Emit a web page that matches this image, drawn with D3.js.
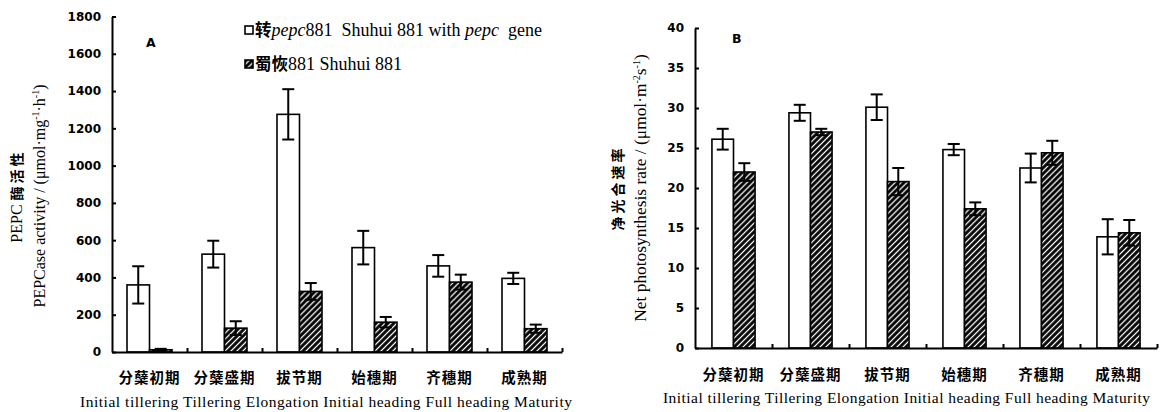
<!DOCTYPE html>
<html>
<head>
<meta charset="utf-8">
<script src="https://cdn.jsdelivr.net/npm/d3@7"></script>
<style>
  body { margin: 0; background: #fff; }
  svg { display: block; }
  .tick text { font-family: 'DejaVu Sans', sans-serif; font-weight: bold; font-size: 12px; fill: #000; }
  .serif { font-family: 'Liberation Serif', 'Times New Roman', serif; }
  .cjk { font-family: 'Noto Sans CJK SC', sans-serif; font-weight: bold; }
</style>
</head>
<body>
<div class="container"></div>
<script>
const stagesZh = ['分蘖初期', '分蘖盛期', '拔节期', '始穗期', '齐穗期', '成熟期'];
const stagesEn = ['Initial tillering', 'Tillering', 'Elongation', 'Initial heading', 'Full heading', 'Maturity'];
const seriesKeys = ['transgenic', 'shuhui'];

// panel A: PEPCase activity
const pepcTransgenic = [360, 525, 1275, 560, 462, 395];
const pepcTransgenicErr = [100, 72, 135, 90, 58, 30];
const pepcShuhui = [12, 128, 325, 160, 375, 125];
const pepcShuhuiErr = [5, 37, 45, 28, 40, 22];
const pepcTicks = [0, 200, 400, 600, 800, 1000, 1200, 1400, 1600, 1800];

// panel B: net photosynthesis rate
const pnTransgenic = [26.1, 29.4, 30.1, 24.8, 22.5, 13.9];
const pnTransgenicErr = [1.3, 1.0, 1.6, 0.7, 1.8, 2.2];
const pnShuhui = [22.0, 27.0, 20.8, 17.4, 24.4, 14.4];
const pnShuhuiErr = [1.1, 0.4, 1.7, 0.8, 1.5, 1.6];
const pnTicks = [0, 5, 10, 15, 20, 25, 30, 35, 40];

const width = 1161;
const height = 412;

const svg = d3
  .select('.container')
  .append('svg')
  .attr('width', width)
  .attr('height', height);

const defs = svg.append('defs');
const hatch = defs
  .append('pattern')
  .attr('id', 'hatch')
  .attr('patternUnits', 'userSpaceOnUse')
  .attr('width', 4.2)
  .attr('height', 4.2)
  .attr('patternTransform', 'rotate(45)');
hatch.append('rect').attr('width', 4.2).attr('height', 4.2).attr('fill', '#000');
hatch
  .append('line')
  .attr('x1', 2.1).attr('y1', 0)
  .attr('x2', 2.1).attr('y2', 4.2)
  .attr('stroke', '#fff')
  .attr('stroke-width', 1.3);

const drawPanel = (cfg) => {
  const g = svg.append('g');
  const rows = stagesZh.map((s, i) => ({
    stage: s,
    values: [
      { key: 'transgenic', v: cfg.a[i], e: cfg.aErr[i] },
      { key: 'shuhui', v: cfg.b[i], e: cfg.bErr[i] },
    ],
  }));

  const x = d3.scaleBand().domain(stagesZh).range([cfg.x0, cfg.x1]);
  const xSub = d3
    .scaleBand()
    .domain(seriesKeys)
    .range([x.bandwidth() * cfg.inset, x.bandwidth() * (1 - cfg.inset)]);
  const y = d3.scaleLinear().domain(cfg.domain).range([cfg.yBottom, cfg.yTop]);

  // bars
  const groups = g
    .selectAll('.stage')
    .data(rows)
    .enter()
    .append('g')
    .attr('transform', (d) => `translate(${x(d.stage)},0)`);

  groups
    .selectAll('rect')
    .data((d) => d.values)
    .enter()
    .append('rect')
    .attr('x', (d) => xSub(d.key))
    .attr('y', (d) => y(d.v))
    .attr('width', xSub.bandwidth())
    .attr('height', (d) => y(0) - y(d.v))
    .attr('fill', (d) => (d.key === 'transgenic' ? '#fff' : 'url(#hatch)'))
    .attr('stroke', '#000')
    .attr('stroke-width', 1.6);

  // error bars
  const err = groups
    .selectAll('.err')
    .data((d) => d.values)
    .enter()
    .append('g')
    .attr('class', 'err')
    .attr('stroke', '#000')
    .attr('stroke-width', 2);
  const cx = (d) => xSub(d.key) + xSub.bandwidth() / 2;
  err
    .append('line')
    .attr('x1', cx).attr('x2', cx)
    .attr('y1', (d) => y(d.v - d.e))
    .attr('y2', (d) => y(d.v + d.e));
  err
    .append('line')
    .attr('x1', (d) => cx(d) - 6).attr('x2', (d) => cx(d) + 6)
    .attr('y1', (d) => y(d.v + d.e))
    .attr('y2', (d) => y(d.v + d.e));
  err
    .append('line')
    .attr('x1', (d) => cx(d) - 6).attr('x2', (d) => cx(d) + 6)
    .attr('y1', (d) => y(Math.max(d.v - d.e, 0)))
    .attr('y2', (d) => y(Math.max(d.v - d.e, 0)));

  // axes
  const yAxis = d3
    .axisLeft(y)
    .tickValues(cfg.ticks)
    .tickFormat(d3.format('d'))
    .tickSizeInner(-4)
    .tickSizeOuter(0)
    .tickPadding(11);
  const ya = g
    .append('g')
    .attr('transform', `translate(${cfg.x0},0)`)
    .call(yAxis);
  ya.selectAll('path, line').attr('stroke', '#000').attr('stroke-width', 2);

  const xEdge = d3.scaleLinear().domain([0, stagesZh.length]).range([cfg.x0, cfg.x1]);
  const xAxis = d3
    .axisTop(xEdge)
    .tickValues(d3.range(1, stagesZh.length + 1))
    .tickSizeInner(4)
    .tickSizeOuter(0)
    .tickFormat('');
  const xa = g
    .append('g')
    .attr('transform', `translate(0,${cfg.yBottom})`)
    .call(xAxis);
  xa.selectAll('path, line').attr('stroke', '#000').attr('stroke-width', 2);

  // category labels
  g.selectAll('.zh')
    .data(stagesZh)
    .enter()
    .append('text')
    .attr('class', 'cjk')
    .attr('x', (d) => x(d) + x.bandwidth() / 2)
    .attr('y', cfg.zhY)
    .attr('text-anchor', 'middle')
    .style('font-size', '14.5px')
    .style('letter-spacing', '1px')
    .text((d) => d);

  g.append('text')
    .attr('class', 'serif')
    .attr('x', cfg.enX0)
    .attr('y', cfg.enY)
    .attr('textLength', cfg.enW)
    .attr('lengthAdjust', 'spacing')
    .style('font-size', '15.5px')
    .text(stagesEn.join(' '));

  // panel letter
  g.append('text')
    .attr('x', cfg.letterX)
    .attr('y', cfg.letterY)
    .style('font-family', 'DejaVu Sans, sans-serif')
    .style('font-weight', 'bold')
    .style('font-size', '12.5px')
    .text(cfg.letter);

  // y titles
  const t1 = g
    .append('text')
    .attr('transform', `translate(${cfg.t1X},${cfg.tY}) rotate(-90)`)
    .attr('text-anchor', 'middle');
  cfg.title1.forEach((p) => {
    t1.append('tspan')
      .attr('class', p.cjk ? 'cjk' : 'serif')
      .style('font-size', p.cjk ? '14px' : '16px')
      .style('letter-spacing', p.cjk ? '3px' : '0px')
      .text(p.t);
  });

  const t2 = g
    .append('text')
    .attr('class', 'serif')
    .attr('transform', `translate(${cfg.t2X},${cfg.tY}) rotate(-90)`)
    .attr('text-anchor', 'middle')
    .style('font-size', cfg.t2Size);
  cfg.title2.forEach((p) => {
    const ts = t2.append('tspan').text(p.t);
    if (p.sup) ts.attr('dy', -6).style('font-size', '10px');
    if (p.back) ts.attr('dy', 6);
  });
};

drawPanel({
  a: pepcTransgenic, aErr: pepcTransgenicErr,
  b: pepcShuhui, bErr: pepcShuhuiErr,
  ticks: pepcTicks, domain: [0, 1800],
  x0: 112, x1: 562, yBottom: 352, yTop: 16.5, inset: 0.2,
  zhY: 383, enY: 407, enX0: 80, enW: 492,
  letter: 'A', letterX: 146, letterY: 47,
  t1X: 22, t2X: 45, tY: 196, t2Size: '16px',
  title1: [{ t: 'PEPC ' }, { t: '酶活性', cjk: true }],
  title2: [
    { t: 'PEPCase activity / (μmol·mg' }, { t: '-1', sup: true },
    { t: '·h', back: true }, { t: '-1', sup: true }, { t: ')', back: true },
  ],
});

drawPanel({
  a: pnTransgenic, aErr: pnTransgenicErr,
  b: pnShuhui, bErr: pnShuhuiErr,
  ticks: pnTicks, domain: [0, 40],
  x0: 695, x1: 1157, yBottom: 348, yTop: 28, inset: 0.22,
  zhY: 380, enY: 403, enX0: 663, enW: 487,
  letter: 'B', letterX: 732, letterY: 43,
  t1X: 623, t2X: 646, tY: 188, t2Size: '17.4px',
  title1: [{ t: '净光合速率', cjk: true }],
  title2: [
    { t: 'Net photosynthesis rate / (μmol·m' }, { t: '-2', sup: true },
    { t: 's', back: true }, { t: '-1', sup: true }, { t: ')', back: true },
  ],
});

// legend
const legend = svg.append('g').attr('transform', 'translate(245,26)');
const legendRows = [
  {
    fill: '#fff', y: 0,
    parts: [
      { t: '转', cjk: true }, { t: 'pepc', it: true }, { t: '881  Shuhui 881 with ' },
      { t: 'pepc', it: true }, { t: '  gene' },
    ],
  },
  {
    fill: 'url(#hatch)', y: 34,
    parts: [{ t: '蜀恢', cjk: true }, { t: '881 Shuhui 881' }],
  },
];
legendRows.forEach((r) => {
  legend
    .append('rect')
    .attr('x', 0)
    .attr('y', r.y)
    .attr('width', 8)
    .attr('height', 8)
    .attr('fill', r.fill)
    .attr('stroke', '#000')
    .attr('stroke-width', 1.6);
  const txt = legend
    .append('text')
    .attr('x', 10)
    .attr('y', r.y + 9.5)
    .attr('xml:space', 'preserve')
    .style('white-space', 'pre');
  r.parts.forEach((p) => {
    txt.append('tspan')
      .attr('class', p.cjk ? 'cjk' : 'serif')
      .style('font-size', p.cjk ? '16.5px' : '18px')
      .style('font-style', p.it ? 'italic' : 'normal')
      .text(p.t);
  });
});
</script>
</body>
</html>
